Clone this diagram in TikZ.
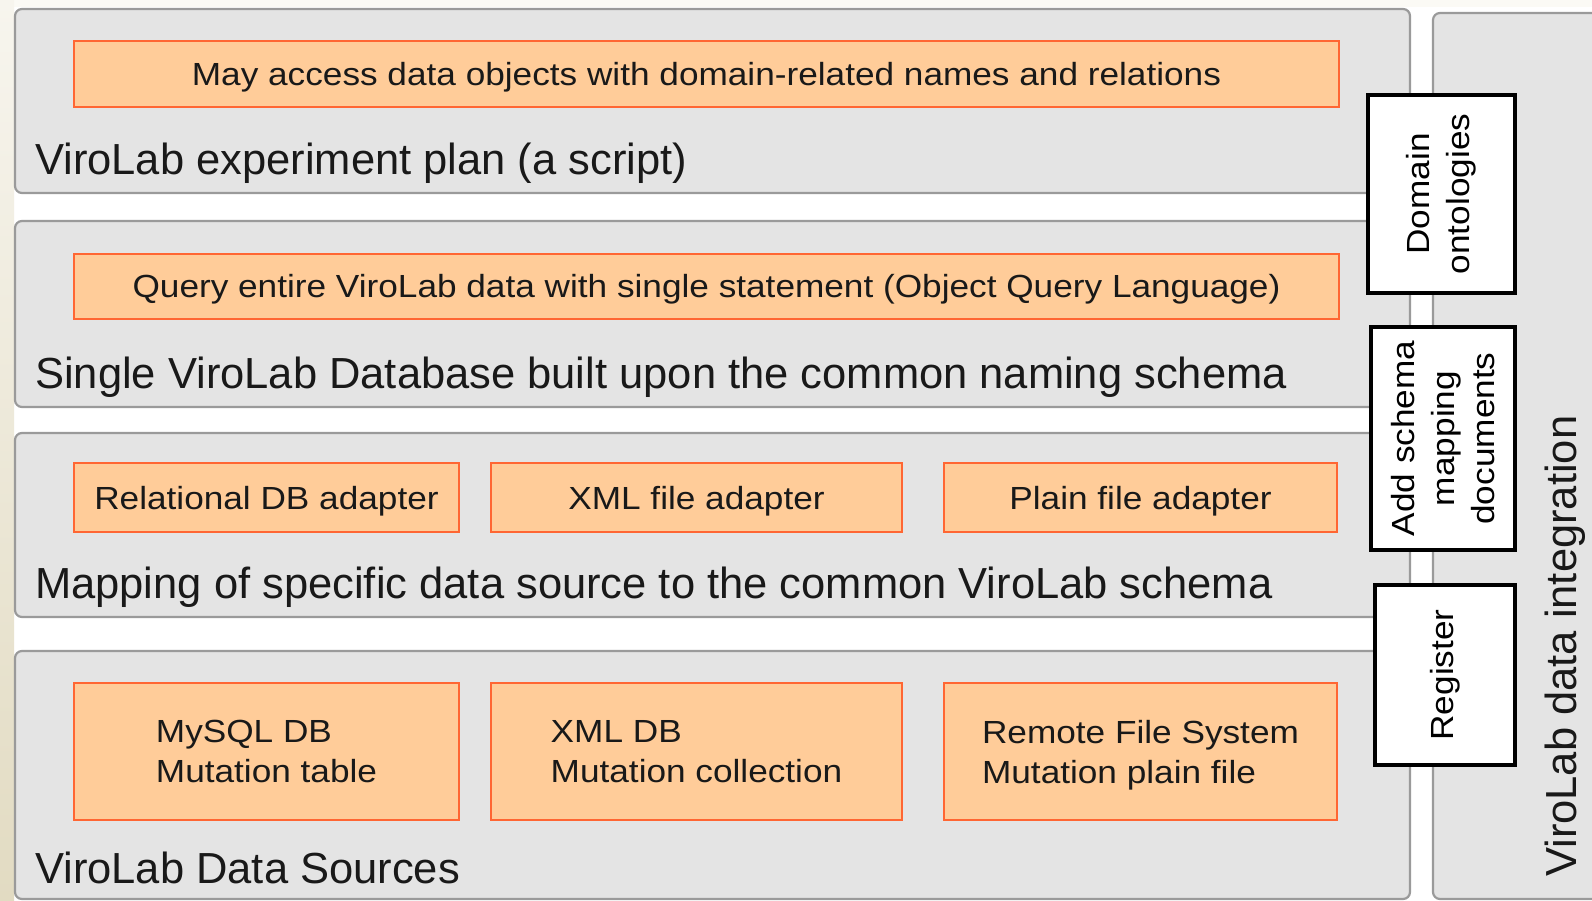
\documentclass[tikz,border=0pt]{standalone}
\usepackage{fontspec}
\setmainfont{Liberation Sans}
\newfontfamily\boxfont[FakeStretch=1.1]{Liberation Sans}
\definecolor{panelfill}{HTML}{E4E4E4}
\definecolor{panelline}{HTML}{9A9A9A}
\definecolor{ofill}{HTML}{FFCC99}
\definecolor{oline}{HTML}{FF6633}
\definecolor{topbg}{HTML}{FBFAF5}
\definecolor{stripA}{HTML}{F7F5EE}
\definecolor{stripB}{HTML}{E2DBC2}
\tikzset{
  panel/.style={fill=panelfill, draw=panelline, line width=2.2pt, rounded corners=7pt},
  obox/.style={rectangle, fill=ofill, draw=oline, line width=2.6pt, inner sep=0pt,
    font=\boxfont\fontsize{32}{40}\selectfont, text=black!90},
  oneline/.style={text height=23pt, text depth=0pt},
  twoline/.style={align=left, text depth=0pt},
  sidebox/.style={rectangle, fill=white, draw=black, line width=3.1pt, inner sep=0pt,
    rotate=90, align=center, font=\boxfont\fontsize{32}{40}\selectfont},
  biglabel/.style={anchor=base west, inner sep=0pt, font=\fontsize{43.5}{50}\selectfont, text=black!90}
}
\begin{document}
\begin{tikzpicture}[x=1pt,y=-1pt]
\useasboundingbox (0,0) rectangle (1592,901);
\clip (0,0) rectangle (1592,901);
% background
\fill[white] (0,0) rectangle (1592,901);
\fill[topbg] (0,0) rectangle (1592,7);
\shade[top color=stripA, bottom color=stripB] (0,0) rectangle (14,901);
% panels
\draw[panel] (15,9) rectangle (1410,193);
\draw[panel] (15,221) rectangle (1410,407);
\draw[panel] (15,433) rectangle (1410,617);
\draw[panel] (15,651) rectangle (1410,899);
\draw[panel] (1433,13) rectangle (1620,899);
% panel labels
\node[biglabel] (l1) at (35,175) {ViroLab experiment plan (a script)};
\node[biglabel] (l2) at (35,388) {Single ViroLab Database built upon the common naming schema};
\node[biglabel] (l3) at (35,598) {Mapping of specific data source to the common ViroLab schema};
\node[biglabel] (l4) at (35,883) {ViroLab Data Sources};
\node[biglabel, rotate=90] (l5) at (1576,877) {ViroLab data integration};
% orange boxes
\node[obox, oneline, minimum width=1265pt, minimum height=66pt] (b1) at (706.5,74) {May access data objects with domain-related names and relations};
\node[obox, oneline, minimum width=1265pt, minimum height=65pt] (b2) at (706.5,286.5) {Query entire ViroLab data with single statement (Object Query Language)};
\node[obox, oneline, minimum width=385pt, minimum height=69pt] (b3a) at (266.5,497.5) {Relational DB adapter};
\node[obox, oneline, minimum width=411pt, minimum height=69pt] (b3b) at (696.5,497.5) {XML file adapter};
\node[obox, oneline, minimum width=393pt, minimum height=69pt] (b3c) at (1140.5,497.5) {Plain file adapter};
\node[obox, twoline, minimum width=385pt, minimum height=137pt] (b4a) at (266.5,751.5) {MySQL DB\\Mutation table};
\node[obox, twoline, minimum width=411pt, minimum height=137pt] (b4b) at (696.5,751.5) {XML DB\\Mutation collection};
\node[obox, twoline, minimum width=393pt, minimum height=137pt] (b4c) at (1140.5,751.5) {Remote File System\\Mutation plain file};
% side boxes
\node[sidebox, minimum width=198pt, minimum height=147pt] (dom) at (1441.5,194) {Domain\\ontologies};
\node[sidebox, minimum width=223pt, minimum height=144pt] (add) at (1443,438.5) {Add schema\\mapping\\documents};
\node[sidebox, minimum width=180pt, minimum height=140pt] (reg) at (1445,675) {Register};
\end{tikzpicture}
\end{document}
